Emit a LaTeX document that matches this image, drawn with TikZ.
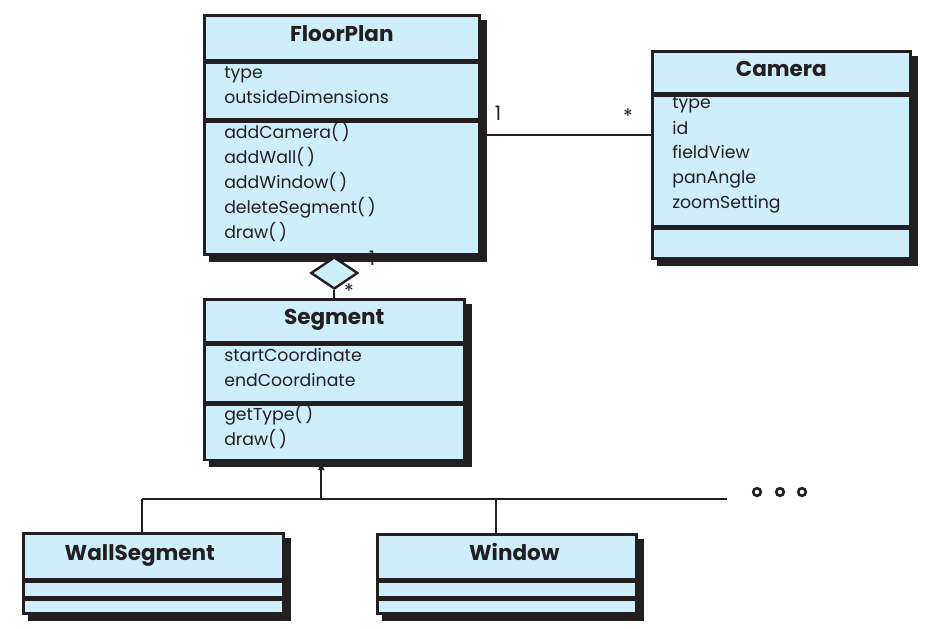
\documentclass[tikz,border=0pt]{standalone}
\usepackage{fontspec}
\setmainfont{Poppins}
\usetikzlibrary{positioning,shapes.geometric,arrows.meta,calc,backgrounds}

\definecolor{classblue}{RGB}{205,238,250}
\definecolor{ink}{RGB}{35,31,32}

\tikzset{
  every node/.style={font=\fontsize{17.3}{25}\selectfont, text=ink},
  box/.style={draw=ink, line width=2.6pt, fill=classblue, inner sep=0pt, anchor=north west},
  title/.style={box, font=\fontsize{21.5}{22}\selectfont\bfseries, align=center,
    text height=16pt, text depth=8pt},
  part/.style={box, align=left, inner xsep=20pt, inner ysep=0pt,
    execute at end node={\par\vspace{11pt}}},
  blank/.style={box},
  link/.style={draw=ink, line width=1.8pt},
  mult/.style={font=\fontsize{20}{22}\selectfont, inner sep=0pt},
  aggr/.style={diamond, draw=ink, line width=2.4pt, fill=classblue, inner sep=0pt,
    aspect=1.47, minimum width=47pt, minimum height=32pt, anchor=north},
  shadowbox/.style={fill=ink},
}

\begin{document}
\begin{tikzpicture}[x=1pt,y=-1pt]
\useasboundingbox (0,0) rectangle (938,629);

% FloorPlan
\node[title, minimum width=275, minimum height=45] (fpt) at (203,14) {FloorPlan};
\node[part, text width=235, minimum height=56] (fpa) at (fpt.south west) {type\\outsideDimensions};
\node[part, text width=235, minimum height=133] (fpm) at (fpa.south west)
  {addCamera(\,)\\addWall(\,)\\addWindow(\,)\\deleteSegment(\,)\\draw(\,)};

% Camera
\node[title, minimum width=258, minimum height=42] (camt) at (651,50) {Camera};
\node[part, text width=218, minimum height=130] (cama) at (camt.south west)
  {type\\id\\fieldView\\panAngle\\zoomSetting};
\node[blank, minimum width=258, minimum height=30] (camm) at (cama.south west) {};

% Segment
\node[title, minimum width=260, minimum height=43] (segt) at (203,298) {Segment};
\node[part, text width=220, minimum height=57] (sega) at (segt.south west) {startCoordinate\\endCoordinate};
\node[part, text width=220, minimum height=55] (segm) at (sega.south west) {getType(\,)\\draw(\,)};

% subclasses
\node[title, minimum width=260, minimum height=46] (wst) at (22,532) {WallSegment\hspace{27pt}};
\node[blank, minimum width=260, minimum height=15] (wsa) at (wst.south west) {};
\node[blank, minimum width=260, minimum height=14] (wsm) at (wsa.south west) {};

\node[title, minimum width=259, minimum height=45] (wint) at (376,533) {\hspace{15pt}Window};
\node[blank, minimum width=259, minimum height=15] (wina) at (wint.south west) {};
\node[blank, minimum width=259, minimum height=14] (winm) at (wina.south west) {};

% shadows
\begin{scope}[on background layer]
\fill[shadowbox] ($(fpt.north west)+(6,6)$) rectangle ($(fpm.south east)+(6,6)$);
\fill[shadowbox] ($(camt.north west)+(6,6)$) rectangle ($(camm.south east)+(6,6)$);
\fill[shadowbox] ($(segt.north west)+(6,6)$) rectangle ($(segm.south east)+(6,6)$);
\fill[shadowbox] ($(wst.north west)+(6,6)$) rectangle ($(wsm.south east)+(6,6)$);
\fill[shadowbox] ($(wint.north west)+(6,6)$) rectangle ($(winm.south east)+(6,6)$);
\end{scope}

% association
\coordinate (fpc) at ($(fpm.north east)+(0,15)$);
\draw[link] (fpc) -- (fpc -| cama.west);
\node[mult] (m1) at (498,113) {1};
\node[mult] (m2) at (628,116) {*};

% aggregation
\node[aggr] (dia) at (fpm.south -| segt.north) {};
\draw[link] (dia.south) -- (dia.south |- segt.north);
\node[mult] (m3) at (349,291) {*};
\node[mult] (m4) at (372,258) {1};

% generalization
\coordinate (gen) at ($(segm.south)+(-13,38)$);
\coordinate (gws) at ($(wst.north)+(-11,0)$);
\coordinate (gwin) at ($(wint.north)+(-11,0)$);
\coordinate (gend) at (727,0 |- gen);
\draw[link, -{Latex[length=9pt,width=7pt]}] (gen) -- (gen |- segm.south);
\draw[link] (gws |- gen) -- (gend);
\draw[link] (gws |- gen) -- (gws);
\draw[link] (gwin |- gen) -- (gwin);
\foreach \x in {757,780,802}
  \draw[draw=ink, line width=2.6pt] (\x,492) circle[radius=3.8pt];

\end{tikzpicture}
\end{document}
